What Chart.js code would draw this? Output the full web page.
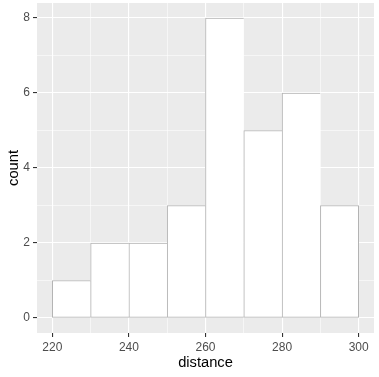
<!DOCTYPE html>
<html>
<head>
<meta charset="utf-8">
<script src="https://cdn.jsdelivr.net/npm/chart.js@4"></script>
<style>
    body { margin: 0; background: #ffffff; }
    canvas { display: block; }
</style>
</head>
<body>
<canvas id="histChart" width="379" height="377"></canvas>
<script>
    // histogram bins (left edges, width 10) and counts
    const binStarts = [220, 230, 240, 250, 260, 270, 280, 290];
    const counts = [1, 2, 2, 3, 8, 5, 6, 3];
    const binWidth = 10;

    // gridlines: majors get labels, minors are thin lines only
    const xTicks = [220, 230, 240, 250, 260, 270, 280, 290, 300];
    const xMajor = [220, 240, 260, 280, 300];
    const yTicks = [0, 1, 2, 3, 4, 5, 6, 7, 8];
    const yMajor = [0, 2, 4, 6, 8];

    Chart.defaults.font.family = "'Liberation Sans', Arial, sans-serif";

    const panelBg = {
        id: 'panelBg',
        beforeDraw(chart) {
            const a = chart.chartArea;
            const c = chart.ctx;
            c.save();
            c.fillStyle = '#ebebeb';
            c.fillRect(a.left, a.top, a.right - a.left, a.bottom - a.top);
            c.restore();
        }
    };

    function isMajor(ctx, majors) {
        return !!ctx.tick && majors.includes(ctx.tick.value);
    }

    function gridFor(majors) {
        return {
            offset: false,
            color: '#ffffff',
            lineWidth: ctx => isMajor(ctx, majors) ? 1.1 : 0.55,
            drawTicks: true,
            tickLength: 4,
            tickWidth: 1.1,
            tickColor: ctx => isMajor(ctx, majors) ? '#333333' : 'rgba(0,0,0,0)'
        };
    }

    const ctx = document.getElementById('histChart').getContext('2d');
    const last = counts.length - 1;

    window.histChart = new Chart(ctx, {
        type: 'bar',
        data: {
            datasets: [{
                data: binStarts.map((s, i) => ({ x: s + binWidth / 2, y: counts[i] })),
                backgroundColor: '#ffffff',
                borderColor: '#b3b3b3',
                borderWidth: c => ({ top: 1, left: 1, bottom: 1, right: c.dataIndex === last ? 1 : 0 }),
                borderSkipped: false,
                barPercentage: 1,
                categoryPercentage: 1
            }]
        },
        options: {
            responsive: false,
            animation: false,
            layout: { padding: { top: 3, right: 5, left: 0, bottom: 0 } },
            plugins: { legend: { display: false }, tooltip: { enabled: false } },
            scales: {
                x: {
                    type: 'linear',
                    offset: false,
                    min: 216,
                    max: 304,
                    afterBuildTicks: s => { s.ticks = xTicks.map(v => ({ value: v })); },
                    afterFit: s => { s.height = 44; s.paddingLeft = 0; s.paddingRight = 0; },
                    border: { display: false },
                    grid: gridFor(xMajor),
                    ticks: {
                        autoSkip: false,
                        maxRotation: 0,
                        padding: 3,
                        color: '#4d4d4d',
                        font: { size: 12 },
                        callback: v => xMajor.includes(v) ? String(v) : ''
                    },
                    title: {
                        display: true,
                        text: 'distance',
                        color: '#000000',
                        font: { size: 14.7 },
                        padding: { top: 0, bottom: 5 }
                    }
                },
                y: {
                    min: -0.4,
                    max: 8.4,
                    afterBuildTicks: s => { s.ticks = yTicks.map(v => ({ value: v })); },
                    afterFit: s => { s.width = 37; s.paddingTop = 0; s.paddingBottom = 0; },
                    border: { display: false },
                    grid: gridFor(yMajor),
                    ticks: {
                        autoSkip: false,
                        padding: 3,
                        color: '#4d4d4d',
                        font: { size: 12 },
                        callback: v => yMajor.includes(v) ? String(v) : ''
                    },
                    title: {
                        display: true,
                        text: 'count',
                        color: '#000000',
                        font: { size: 14.7 },
                        padding: { top: 5, bottom: 0 }
                    }
                }
            }
        },
        plugins: [panelBg]
    });
</script>
</body>
</html>
